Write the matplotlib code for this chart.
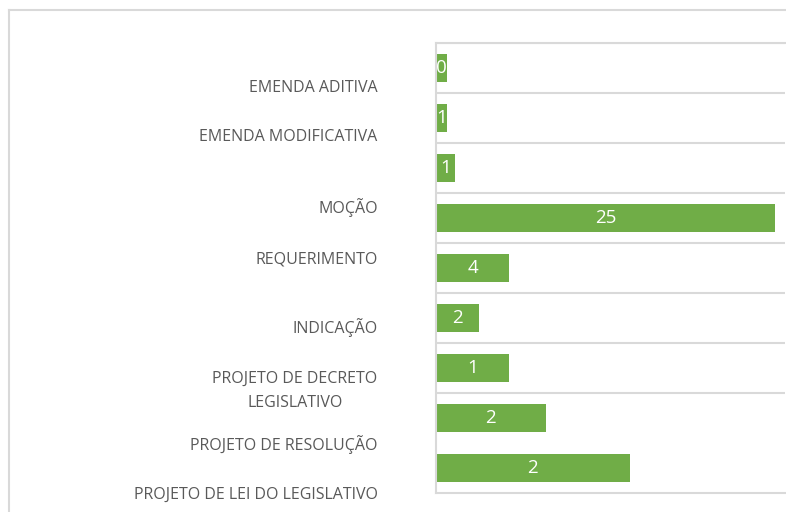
import matplotlib.pyplot as plt
import numpy as np

# categories as printed on the (shifted) axis labels
categorias = ['EMENDA ADITIVA', 'EMENDA MODIFICATIVA', 'MOÇÃO', 'REQUERIMENTO',
              'INDICAÇÃO', 'PROJETO DE DECRETO\nLEGISLATIVO',
              'PROJETO DE RESOLUÇÃO', 'PROJETO DE LEI DO LEGISLATIVO']
# bar lengths as drawn, and the numbers written on them
comprimentos = [0.8, 0.8, 1.4, 25, 5.4, 3.2, 5.4, 8.1, 14.3]
rotulos = ['0', '1', '1', '25', '4', '2', '1', '2', '2']
# where each category label sits (in bar-row units)
pos_rotulos = [0.36, 1.34, 2.76, 3.78, 5.16, 6.34, 7.5, 8.5]

verde = '#70ad47'
cinza = '#d9d9d9'

plt.rcParams['font.family'] = ['Open Sans', 'DejaVu Sans']

fig = plt.figure(figsize=(7.86, 5.12), dpi=100)
# outer chart border (only top and left visible)
fig.add_artist(plt.Line2D([9/786, 785/786], [1-10/512, 1-10/512], color=cinza, lw=1.5))
fig.add_artist(plt.Line2D([9/786, 9/786], [0, 1-10/512], color=cinza, lw=1.5))

ax = fig.add_axes([436/786, 1-493/512, 349/786, 450/512])
y = np.arange(len(comprimentos))
barras = ax.barh(y, comprimentos, height=0.56, color=verde)
ax.set_ylim(8.5, -0.5)
ax.set_xlim(0, 25.75)

for b, t in zip(barras, rotulos):
    ax.text(b.get_width()/2, b.get_y()+b.get_height()/2, t, color='white',
            fontsize=13.5, ha='center', va='center')

ax.set_yticks(pos_rotulos, labels=categorias)
for lab in ax.get_yticklabels():
    lab.set_multialignment('center')
    lab.set_linespacing(1.7)
ax.tick_params(axis='y', length=0, pad=42, labelsize=11.5, labelcolor='#595959')
ax.set_xticks([])
ax.set_yticks(np.arange(-0.5, 9), minor=True)
ax.tick_params(axis='y', which='minor', length=0)
ax.grid(which='minor', axis='y', color=cinza, lw=1.5)
ax.set_axisbelow(True)
ax.spines['right'].set_visible(False)
for s in ['left', 'top', 'bottom']:
    ax.spines[s].set_color(cinza)
    ax.spines[s].set_linewidth(1.5)

plt.savefig('out.png', dpi=100)
